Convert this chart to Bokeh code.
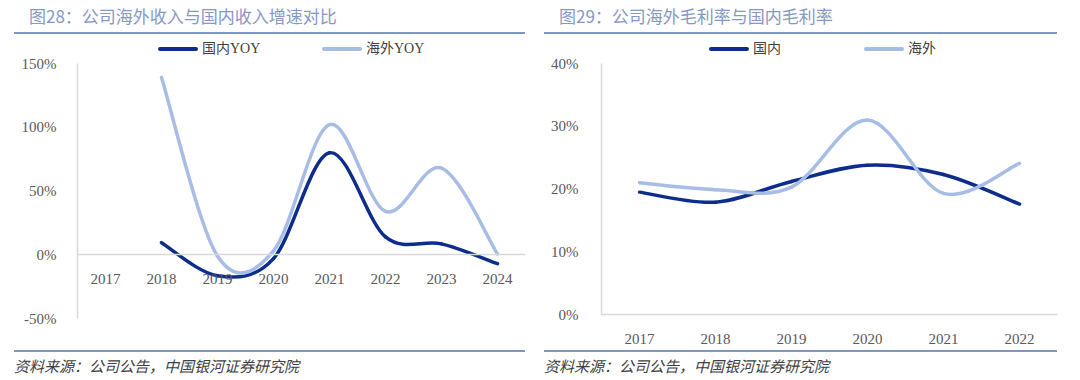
from bokeh.plotting import figure
from bokeh.models import (FixedTicker, PrintfTickFormatter, Range1d, ColumnDataSource, Div)
from bokeh.layouts import row, column
from bokeh.embed import file_html
from bokeh.resources import INLINE

# ---------------- data ----------------
growth_years = ["2017", "2018", "2019", "2020", "2021", "2022", "2023", "2024"]
domestic_yoy = [None, 9.5, -16.5, -3.0, 80.0, 14.0, 8.5, -7.0]
overseas_yoy = [None, 139.0, -1.0, 3.0, 102.0, 34.0, 68.0, 0.5]
growth_ticks = [-50, 0, 50, 100, 150]
growth_series = ["国内YOY", "海外YOY"]

margin_years = ["2017", "2018", "2019", "2020", "2021", "2022"]
domestic_gm = [19.5, 17.9, 21.2, 23.8, 22.3, 17.6]
overseas_gm = [21.0, 19.9, 20.3, 31.0, 19.3, 24.1]
margin_ticks = [0, 10, 20, 30, 40]
margin_series = ["国内", "海外"]

DARK = "#0c2d8c"
LIGHT = "#a8bde6"
RULE = "#7f96c0"
TICK_FONT = "'Liberation Serif', 'Noto Sans CJK SC'"
CJK_FONT = "'Noto Sans CJK SC'"


def smooth_source(ys):
    pts = [(i + 1, y) for i, y in enumerate(ys) if y is not None]
    n = len(pts)
    d = dict(x0=[], y0=[], x1=[], y1=[], cx0=[], cy0=[], cx1=[], cy1=[])
    for i in range(n - 1):
        p0 = pts[i - 1] if i > 0 else pts[i]
        p1 = pts[i]
        p2 = pts[i + 1]
        p3 = pts[i + 2] if i + 2 < n else pts[i + 1]
        d["x0"].append(p1[0]); d["y0"].append(p1[1])
        d["x1"].append(p2[0]); d["y1"].append(p2[1])
        d["cx0"].append(p1[0] + (p2[0] - p0[0]) / 6)
        d["cy0"].append(p1[1] + (p2[1] - p0[1]) / 6)
        d["cx1"].append(p2[0] - (p3[0] - p1[0]) / 6)
        d["cy1"].append(p2[1] - (p3[1] - p1[1]) / 6)
    return ColumnDataSource(d)


def make_figure(years, s1, s2, ticks, y0, y1, frame, standoffs, fixed_zero):
    left, fw, top, fh, H = frame
    p = figure(width=532, height=H, x_range=Range1d(0.5, len(years) + 0.5),
               y_range=Range1d(y0, y1), output_backend="svg", toolbar_location=None,
               min_border_left=left, min_border_right=532 - left - fw,
               min_border_top=top, min_border_bottom=H - top - fh,
               background_fill_color="white", border_fill_color="white")
    p.outline_line_color = None
    p.xgrid.visible = False
    p.ygrid.visible = False

    for ax in (p.xaxis[0], p.yaxis[0]):
        ax.axis_line_color = "#d9d9d9"
        ax.axis_line_width = 1.5
        ax.major_tick_line_color = None
        ax.minor_tick_line_color = None
        ax.major_label_text_font = TICK_FONT
        ax.major_label_text_font_size = "15px"
        ax.major_label_text_color = "#595959"
    p.yaxis.ticker = FixedTicker(ticks=ticks)
    p.yaxis.formatter = PrintfTickFormatter(format="%d%%")
    p.yaxis.major_label_standoff = standoffs[0]
    p.xaxis.ticker = FixedTicker(ticks=list(range(1, len(years) + 1)))
    p.xaxis.major_label_overrides = {i + 1: y for i, y in enumerate(years)}
    p.xaxis.major_label_standoff = standoffs[1]
    if fixed_zero:
        p.xaxis.fixed_location = 0

    cols = dict(x0="x0", y0="y0", x1="x1", y1="y1", cx0="cx0", cy0="cy0", cx1="cx1", cy1="cy1")
    p.bezier(source=smooth_source(s1), line_color=DARK, line_width=3.5, line_cap="round", **cols)
    p.bezier(source=smooth_source(s2), line_color=LIGHT, line_width=3.5, line_cap="round", **cols)
    return p


def title_div(text, left_margin, width):
    return Div(text=text, width=width, height=34, margin=(0, 0, 0, left_margin),
               styles={"box-sizing": "border-box", "border-bottom": "2px solid " + RULE,
                       "padding-left": "15px", "font-family": CJK_FONT, "font-size": "17px",
                       "line-height": "32px", "color": "#8698c4", "white-space": "nowrap"})


def legend_div(names, xs):
    parts = []
    for name, color, x in zip(names, (DARK, LIGHT), xs):
        parts.append('<span style="position:absolute;left:%dpx;top:13px;width:40px;height:3.5px;'
                     'background:%s;border-radius:2px"></span>' % (x, color))
        parts.append('<span style="position:absolute;left:%dpx;top:5px;line-height:20px;'
                     'font-family:%s;font-size:14px;color:#404040;white-space:nowrap">%s</span>'
                     % (x + 44, TICK_FONT.replace("'", ""), name))
    return Div(text='<div style="position:relative;width:532px;height:20px">' + "".join(parts) + "</div>",
               width=532, height=20, margin=(0, 0, 0, 0))


def footer_div(left_margin, width):
    return Div(text="资料来源：公司公告，中国银河证券研究院", width=width, height=30,
               margin=(0, 0, 0, left_margin),
               styles={"box-sizing": "border-box", "border-top": "2px solid " + RULE,
                       "font-family": CJK_FONT, "font-size": "15px", "font-style": "italic",
                       "line-height": "28px", "color": "#404040", "white-space": "nowrap"})


# left panel: frame page x 77..525, y 63..318 ; figure occupies y 54..350
p1 = make_figure(growth_years, domestic_yoy, overseas_yoy, growth_ticks, -50, 150,
                 (77, 448, 9, 255, 296), (15, 13), True)
# right panel: frame page x 601..1057, y 63..314
p2 = make_figure(margin_years, domestic_gm, overseas_gm, margin_ticks, 0, 40,
                 (69, 456, 9, 251, 296), (17, 13), False)

left_col = column(title_div("图28：公司海外收入与国内收入增速对比", 14, 511),
                  legend_div(growth_series, (158, 322)), p1,
                  footer_div(14, 511), spacing=0)
right_col = column(title_div("图29：公司海外毛利率与国内毛利率", 12, 513),
                   legend_div(margin_series, (177, 332)), p2,
                   footer_div(12, 513), spacing=0)

layout = row(left_col, right_col, spacing=0)
open("out.html", "w").write(file_html(layout, INLINE))
